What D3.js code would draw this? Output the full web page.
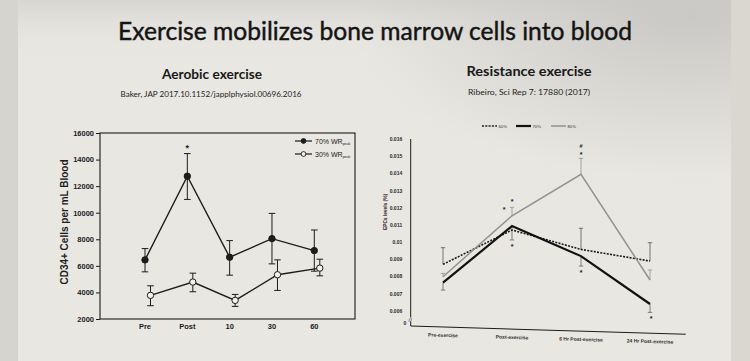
<!DOCTYPE html>
<html>
<head>
<meta charset="utf-8">
<script src="https://cdn.jsdelivr.net/npm/d3@7"></script>
<style>
  body { margin: 0; background: #e8e6e1; }
  svg { display: block; }
</style>
</head>
<body>
<svg id="chart" width="750" height="361"></svg>
<script>
// ---- data: aerobic exercise (Baker) ----
var timeLabels = ["Pre", "Post", "10", "30", "60"];
var wr70 = [6450, 12750, 6650, 8050, 7150];
var wr70Hi = [7300, 14450, 7900, 9950, 8700];
var wr70Lo = [5550, 11000, 5300, 6150, 5600];
var wr30 = [3780, 4780, 3400, 5330, 5830];
var wr30Hi = [4500, 5450, 3850, 6450, 6500];
var wr30Lo = [3000, 4050, 2950, 4150, 5250];
var cdTicks = [2000, 4000, 6000, 8000, 10000, 12000, 14000, 16000];

// ---- data: resistance exercise (Ribeiro) ----
var phases = ["Pre-exercise", "Post-exercise", "6 Hr Post-exercise", "24 Hr Post-exercise"];
var pct60 = [0.0087, 0.0107, 0.00957, 0.00889];
var pct70 = [0.00763, 0.01093, 0.00918, 0.00639];
var pct80 = [0.00798, 0.01153, 0.01394, 0.00779];
// end of the one-sided error bar (null = none drawn)
var pct60End = [0.00967, null, 0.0108, 0.00996];
var pct70End = [0.0072, 0.01012, 0.0086, 0.0059];
var pct80End = [0.00817, 0.01202, 0.01487, 0.00837];
var epcTicks = [0.006, 0.007, 0.008, 0.009, 0.01, 0.011, 0.012, 0.013, 0.014, 0.015, 0.016];
var epcMarks = [
  { phase: 1, v: 0.01198, dx: -8, t: "*" },
  { phase: 1, v: 0.01239, dx: 0, t: "*" },
  { phase: 1, v: 0.00977, dx: 0, t: "*" },
  { phase: 2, v: 0.01559, dx: 0, t: "#" },
  { phase: 2, v: 0.01518, dx: 0, t: "*" },
  { phase: 2, v: 0.00826, dx: 0, t: "*" },
  { phase: 3, v: 0.00563, dx: 1, t: "*" }
];

var svg = d3.select("#chart");
var ink = "#1c1c1c";

// ---- slide background ----
var defs = svg.append("defs");
var rg = defs.append("radialGradient").attr("id", "shade")
  .attr("cx", "92%").attr("cy", "5%").attr("r", "45%");
rg.append("stop").attr("offset", "0%").attr("stop-color", "#c8c6c2").attr("stop-opacity", 0.9);
rg.append("stop").attr("offset", "100%").attr("stop-color", "#c8c6c2").attr("stop-opacity", 0);
var lg = defs.append("linearGradient").attr("id", "topfade").attr("x1", 0).attr("y1", 0).attr("x2", 0).attr("y2", 1);
lg.append("stop").attr("offset", "0%").attr("stop-color", "#d8d6d2");
lg.append("stop").attr("offset", "100%").attr("stop-color", "#e9e7e2").attr("stop-opacity", 0);

svg.append("rect").attr("width", 750).attr("height", 361).attr("fill", "#e9e7e2");
svg.append("rect").attr("width", 750).attr("height", 60).attr("fill", "url(#topfade)");
svg.append("rect").attr("width", 750).attr("height", 361).attr("fill", "url(#shade)");
svg.append("rect").attr("x", 0).attr("width", 18).attr("height", 361).attr("fill", "#d6d4ce");
svg.append("rect").attr("x", 731).attr("width", 19).attr("height", 361).attr("fill", "#d9d7cf");

// ---- titles ----
svg.append("text").attr("x", 118).attr("y", 39.5)
  .attr("textLength", 514).attr("lengthAdjust", "spacingAndGlyphs")
  .style("font-family", "Lato, 'Open Sans', sans-serif").style("font-size", "25px")
  .attr("fill", "#141414").attr("stroke", "#141414").attr("stroke-width", 0.45)
  .text("Exercise mobilizes bone marrow cells into blood");

function heading(x, y, w, txt) {
  svg.append("text").attr("x", x).attr("y", y).attr("text-anchor", "middle")
    .attr("textLength", w).attr("lengthAdjust", "spacingAndGlyphs")
    .style("font-family", "Lato, 'Open Sans', sans-serif").style("font-size", "13px")
    .style("font-weight", "bold").attr("fill", "#181818").text(txt);
}
function cite(x, y, w, txt) {
  svg.append("text").attr("x", x).attr("y", y).attr("text-anchor", "middle")
    .attr("textLength", w).attr("lengthAdjust", "spacingAndGlyphs")
    .style("font-family", "Lato, 'Open Sans', sans-serif").style("font-size", "7.5px")
    .attr("fill", "#222").text(txt);
}
heading(212, 79, 100, "Aerobic exercise");
cite(211, 96.5, 181, "Baker, JAP 2017.10.1152/japplphysiol.00696.2016");
heading(529, 76, 125, "Resistance exercise");
cite(529, 95, 122, "Ribeiro, Sci Rep 7: 17880 (2017)");

// ================= left chart =================
var L = { left: 100, right: 355, top: 133, bottom: 319 };
var xL = d3.scaleLinear().domain([0, 4]).range([145, 314.3]);
var yL = d3.scaleLinear().domain([2000, 16000]).range([L.bottom, L.top]);
var gL = svg.append("g").style("font-family", "'Liberation Sans', Arial, sans-serif");

gL.append("rect").attr("x", L.left).attr("y", L.top)
  .attr("width", L.right - L.left).attr("height", L.bottom - L.top)
  .attr("fill", "none").attr("stroke", ink).attr("stroke-width", 1.1);

var axL = gL.append("g").attr("transform", "translate(" + L.left + ",0)")
  .call(d3.axisLeft(yL).tickValues(cdTicks).tickSize(4).tickPadding(2).tickFormat(d3.format("d")));
axL.select(".domain").remove();
axL.selectAll("line").attr("stroke", ink);
axL.selectAll("text").style("font-size", "7.5px").style("font-weight", "bold").attr("fill", ink);

gL.selectAll(".xlab").data(timeLabels).enter().append("text")
  .attr("x", function(d, i) { return xL(i); }).attr("y", 329)
  .attr("text-anchor", "middle").style("font-size", "7.5px").style("font-weight", "bold")
  .attr("fill", ink).text(function(d) { return d; });

gL.append("text").attr("transform", "translate(68,222) rotate(-90)")
  .attr("text-anchor", "middle").style("font-size", "10px").style("font-weight", "bold")
  .attr("fill", ink).text("CD34+ Cells per mL Blood");

function seriesL(vals, hi, lo, off, filled) {
  var g = gL.append("g");
  var line = d3.line().x(function(d, i) { return xL(i) + off; }).y(function(d) { return yL(d); });
  g.append("path").datum(vals).attr("d", line).attr("fill", "none")
    .attr("stroke", ink).attr("stroke-width", 1.4);
  vals.forEach(function(v, i) {
    var x = xL(i) + off;
    g.append("line").attr("x1", x).attr("x2", x).attr("y1", yL(lo[i])).attr("y2", yL(hi[i]))
      .attr("stroke", ink).attr("stroke-width", 1);
    [hi[i], lo[i]].forEach(function(e) {
      g.append("line").attr("x1", x - 3.3).attr("x2", x + 3.3).attr("y1", yL(e)).attr("y2", yL(e))
        .attr("stroke", ink).attr("stroke-width", 1);
    });
  });
  g.selectAll("circle").data(vals).enter().append("circle")
    .attr("cx", function(d, i) { return xL(i) + off; }).attr("cy", function(d) { return yL(d); })
    .attr("r", 3.2).attr("fill", filled ? ink : "#f2f1ee").attr("stroke", ink).attr("stroke-width", 1);
}
seriesL(wr70, wr70Hi, wr70Lo, 0, true);
seriesL(wr30, wr30Hi, wr30Lo, 5.5, false);

gL.append("text").attr("x", xL(1)).attr("y", yL(14950)).attr("dy", "0.45em")
  .attr("text-anchor", "middle").style("font-size", "9px").style("font-weight", "bold")
  .attr("fill", ink).text("*");

// legend
[{ y: 141, filled: true, t: "70% WR" }, { y: 154, filled: false, t: "30% WR" }].forEach(function(r) {
  gL.append("line").attr("x1", 295).attr("x2", 312).attr("y1", r.y).attr("y2", r.y)
    .attr("stroke", ink).attr("stroke-width", 1.2);
  gL.append("circle").attr("cx", 303.5).attr("cy", r.y).attr("r", 2.4)
    .attr("fill", r.filled ? ink : "#f2f1ee").attr("stroke", ink).attr("stroke-width", 0.9);
  var t = gL.append("text").attr("x", 315).attr("y", r.y + 2.5)
    .style("font-size", "7px").attr("fill", ink).text(r.t);
  t.append("tspan").attr("dy", 1.8).style("font-size", "3.6px").text("peak");
});

// ================= right chart =================
var R = { axisX: 410.7, top: 139, zeroY: 326 };
var xR = d3.scalePoint().domain(phases).range([443, 650]);
var yR = d3.scaleLinear().domain([0.006, 0.016]).range([310.7, 139]);
var gR = svg.append("g").style("font-family", "'Liberation Sans', Arial, sans-serif");

// y axis with break
gR.append("line").attr("x1", R.axisX).attr("x2", R.axisX).attr("y1", R.top).attr("y2", 317.5)
  .attr("stroke", ink).attr("stroke-width", 1);
gR.append("line").attr("x1", R.axisX).attr("x2", R.axisX).attr("y1", 321.5).attr("y2", R.zeroY)
  .attr("stroke", ink).attr("stroke-width", 1);
gR.append("text").attr("x", R.axisX - 0.5).attr("y", 321.5).attr("text-anchor", "middle")
  .style("font-size", "6px").attr("fill", ink).text("//");

var axR = gR.append("g").attr("transform", "translate(" + R.axisX + ",0)")
  .call(d3.axisLeft(yR).tickValues(epcTicks).tickSize(0).tickPadding(8.5)
    .tickFormat(function(d) { return String(+d.toFixed(3)); }));
axR.select(".domain").remove();
axR.selectAll("text").style("font-size", "5px").style("font-weight", "bold").attr("fill", "#2a2a2a");
gR.append("text").attr("x", 405).attr("y", 325).attr("text-anchor", "middle")
  .style("font-size", "5px").style("font-weight", "bold").attr("fill", "#2a2a2a").text("0");

gR.append("text").attr("transform", "translate(387,212) rotate(-90)")
  .attr("text-anchor", "middle").style("font-size", "4.8px").style("font-weight", "bold")
  .attr("fill", "#2a2a2a").text("EPCs levels (%)");

// x axis, slightly slanted as in the photo
var gx = gR.append("g").attr("transform", "translate(" + R.axisX + "," + R.zeroY + ") skewY(1.7)");
gx.append("line").attr("x1", 0).attr("x2", 275).attr("y1", 0).attr("y2", 0)
  .attr("stroke", ink).attr("stroke-width", 1);
gx.selectAll("text").data(phases).enter().append("text")
  .attr("x", function(d) { return xR(d) - R.axisX; }).attr("y", 10)
  .attr("text-anchor", "middle").style("font-size", "5px").style("font-weight", "bold")
  .attr("fill", "#2a2a2a").text(function(d) { return d; });

var seriesR = [
  { vals: pct60, ends: pct60End, color: ink, width: 1.6, dash: "2,1.3", bar: "#555" },
  { vals: pct70, ends: pct70End, color: "#111", width: 2.2, dash: null, bar: "#666" },
  { vals: pct80, ends: pct80End, color: "#929292", width: 1.5, dash: null, bar: "#929292" }
];
var lineR = d3.line().x(function(d, i) { return xR(phases[i]); }).y(function(d) { return yR(d); });

seriesR.forEach(function(s) {
  s.ends.forEach(function(e, i) {
    if (e === null) return;
    var x = xR(phases[i]);
    gR.append("line").attr("x1", x).attr("x2", x).attr("y1", yR(s.vals[i])).attr("y2", yR(e))
      .attr("stroke", s.bar).attr("stroke-width", 0.8);
    gR.append("line").attr("x1", x - 2.2).attr("x2", x + 2.2).attr("y1", yR(e)).attr("y2", yR(e))
      .attr("stroke", s.bar).attr("stroke-width", 0.8);
  });
});
seriesR.forEach(function(s) {
  gR.append("path").datum(s.vals).attr("d", lineR).attr("fill", "none")
    .attr("stroke", s.color).attr("stroke-width", s.width)
    .attr("stroke-dasharray", s.dash);
});

gR.selectAll(".mark").data(epcMarks).enter().append("text")
  .attr("x", function(d) { return xR(phases[d.phase]) + d.dx; })
  .attr("y", function(d) { return yR(d.v); }).attr("dy", function(d) { return d.t === "*" ? "0.5em" : "0.35em"; })
  .attr("text-anchor", "middle").style("font-size", function(d) { return d.t === "*" ? "7px" : "5.5px"; })
  .style("font-weight", "bold").attr("fill", ink).text(function(d) { return d.t; });

// legend
var legR = [
  { x: 482, t: "60%", s: seriesR[0] },
  { x: 516, t: "70%", s: seriesR[1] },
  { x: 551, t: "80%", s: seriesR[2] }
];
legR.forEach(function(l) {
  gR.append("line").attr("x1", l.x).attr("x2", l.x + 15).attr("y1", 126).attr("y2", 126)
    .attr("stroke", l.s.color).attr("stroke-width", l.s.width).attr("stroke-dasharray", l.s.dash);
  gR.append("text").attr("x", l.x + 16.5).attr("y", 128).style("font-size", "4.2px")
    .attr("fill", "#333").text(l.t);
});
</script>
</body>
</html>
